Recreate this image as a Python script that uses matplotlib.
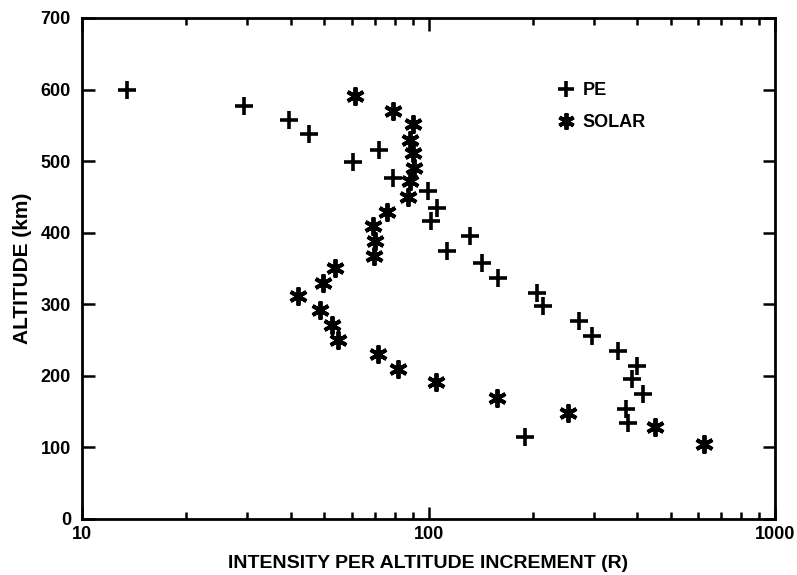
import matplotlib
matplotlib.use("Agg")
import matplotlib.pyplot as plt
from matplotlib.ticker import LogLocator, FixedLocator, NullFormatter

plt.rcParams['font.family'] = ['Liberation Sans', 'DejaVu Sans']

# PE photoelectron points (intensity R, altitude km)
pe_x = [13.5, 29.4, 39.6, 45.1, 60.7, 72.1, 79.1, 99.9, 106, 102, 113, 132, 143,
        159, 205, 214, 272, 296, 352, 399, 386, 415, 371, 377, 190]
pe_y = [600, 577, 557, 538, 499, 516, 476, 458, 435, 416, 375, 395, 357,
        337, 316, 298, 276, 256, 235, 214, 196, 175, 154, 134, 114]

# SOLAR points
sol_x = [61.5, 79, 90, 88.5, 90.5, 91, 88.5, 87.5, 75.7, 69, 70, 69.4, 53.7,
         49.5, 41.9, 48.6, 52.6, 54.9, 71.3, 81.8, 105, 158, 253, 451, 624]
sol_y = [591, 570, 552, 530, 512, 491, 472, 450, 429, 409, 389, 367, 351,
         330, 312, 292, 271, 250, 230, 210, 192, 169, 148, 129, 105]

y_ticks = [0, 100, 200, 300, 400, 500, 600, 700]
x_ticks = [10, 100, 1000]
x_labels = ['10', '100', '1000']

fig = plt.figure(figsize=(7.97, 5.75), dpi=100)
ax = fig.add_axes((0.1029, 0.0974, 0.8695, 0.8713))

ax.plot(pe_x, pe_y, linestyle='none', marker='+', ms=13, mew=2.6,
        color='black', label='PE')
ax.plot(sol_x, sol_y, linestyle='none', marker=(6, 2, 0), ms=13, mew=2.8,
        color='black', label='SOLAR')

ax.set_xscale('log')
ax.set_xlim(10, 1000)
ax.set_ylim(0, 700)

ax.xaxis.set_major_locator(FixedLocator(x_ticks))
ax.set_xticklabels(x_labels)
ax.xaxis.set_minor_locator(LogLocator(base=10, subs=range(2, 10)))
ax.xaxis.set_minor_formatter(NullFormatter())
ax.set_yticks(y_ticks)

for s in ax.spines.values():
    s.set_linewidth(2)

ax.tick_params(which='both', direction='in', top=True, right=True,
               labelsize=13, width=1.8)
ax.tick_params(which='major', length=9)
ax.tick_params(which='minor', length=5)
ax.tick_params(axis='y', pad=8)
ax.tick_params(axis='x', pad=5)
for lab in ax.get_xticklabels() + ax.get_yticklabels():
    lab.set_fontweight('bold')

ax.set_xlabel('INTENSITY PER ALTITUDE INCREMENT (R)', fontsize=14,
              fontweight='bold', labelpad=9)
ax.set_ylabel('ALTITUDE (km)', fontsize=15, fontweight='bold', labelpad=6)

ax.legend(loc='upper left', bbox_to_anchor=(0.662, 0.905), frameon=False,
          prop={'weight': 'bold', 'size': 13},
          handlelength=1.0, handletextpad=0.4, labelspacing=0.85,
          numpoints=1, markerscale=0.9)

fig.savefig('out.png', dpi=100)
